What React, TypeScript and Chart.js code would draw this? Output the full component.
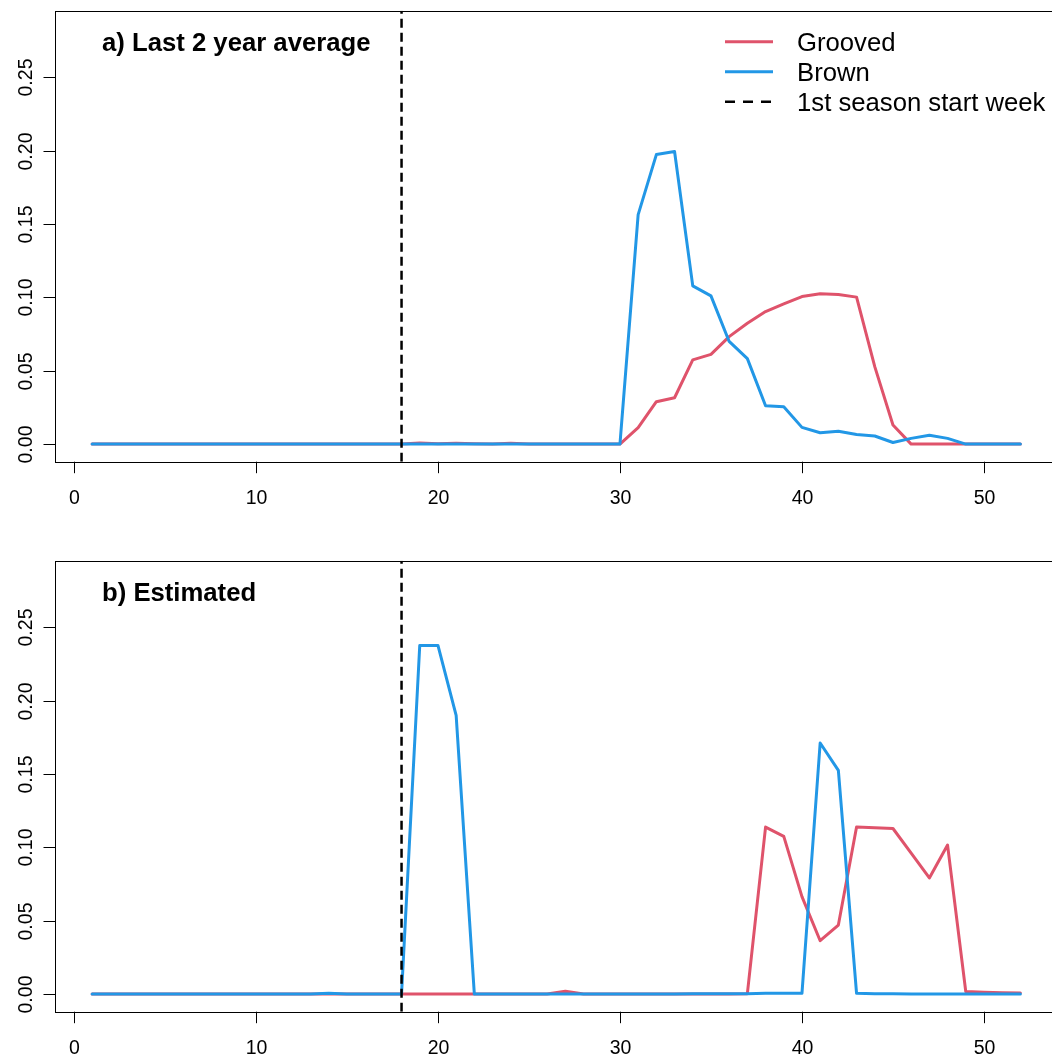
import React, { useEffect, useRef } from "react";
import { Chart, registerables } from "chart.js";

Chart.register(...registerables);

const weeks = [1,2,3,4,5,6,7,8,9,10,11,12,13,14,15,16,17,18,19,20,21,22,23,24,25,26,27,28,29,30,31,32,33,34,35,36,37,38,39,40,41,42,43,44,45,46,47,48,49,50,51,52];

// Panel a) Last 2 year average
const groovedAvg = [0,0,0,0,0,0,0,0,0,0,0,0,0,0,0,0,0,0,0.0007,0.0002,0.0006,0.0002,0,0.0006,0,0,0,0,0,0,0.0112,0.0289,0.0316,0.0574,0.0612,0.0733,0.0824,0.0904,0.0956,0.1006,0.1025,0.102,0.1002,0.0528,0.013,0,0,0,0,0,0,0];
const brownAvg = [0,0,0,0,0,0,0,0,0,0,0,0,0,0,0,0,0,0,0,0,0,0,0,0,0,0,0,0,0,0,0.1565,0.1974,0.1995,0.1079,0.1011,0.07,0.0583,0.0262,0.0255,0.0114,0.0077,0.0087,0.0066,0.0055,0.0011,0.0039,0.0061,0.0039,0,0,0,0];

// Panel b) Estimated
const groovedEst = [0,0,0,0,0,0,0,0,0,0,0,0,0,0,0,0,0,0,0,0,0,0,0,0,0,0,0.002,0,0,0,0,0,0,0,0,0,0.0003,0.1139,0.1075,0.0665,0.0364,0.0471,0.1139,0.1134,0.1129,0.0961,0.0792,0.1016,0.0018,0.0013,0.001,0.0008];
const brownEst = [0,0,0,0,0,0,0,0,0,0,0,0,0,0.0005,0,0,0,0,0.2377,0.2377,0.19,0,0,0,0,0,0,0,0,0,0,0,0,0.0003,0.0003,0.0003,0.0003,0.0005,0.0005,0.0005,0.1712,0.1525,0.0005,0.0003,0.0003,0,0,0,0,0,0,0];

const startWeek = 18;
const seriesNames = ["Grooved", "Brown"];
const startLabel = "1st season start week";
const panelTitles = ["a) Last 2 year average", "b) Estimated"];
const xTickValues = [0, 10, 20, 30, 40, 50];
const yTickValues = [0, 0.05, 0.1, 0.15, 0.2, 0.25];
const yTickLabels = ["0.00", "0.05", "0.10", "0.15", "0.20", "0.25"];

const RED = "#DF536B";
const BLUE = "#2297E6";
const FONT = "'Liberation Sans', Arial, Helvetica, sans-serif";

const Y_MIN = -0.012;
const Y_MAX = 0.2955;
const X_MIN = -1.04;
const X_MAX = 54.04;

const CW = 1062;
const CH = 550;

function makeChart(canvas: HTMLCanvasElement, title: string, grooved: number[], brown: number[], showLegend: boolean) {
  const toXY = (vals: number[]) => weeks.map((w, i) => ({ x: w, y: vals[i] }));
  const decor = {
    id: "rdecor",
    afterDraw(chart: any) {
      const ctx = chart.ctx as CanvasRenderingContext2D;
      const a = chart.chartArea;
      const xs = chart.scales.x;
      const ys = chart.scales.y;
      ctx.save();
      ctx.strokeStyle = "#000";
      ctx.lineWidth = 1;
      ctx.strokeRect(Math.round(a.left) + 0.5, Math.round(a.top) + 0.5, Math.round(a.right - a.left), Math.round(a.bottom - a.top));
      ctx.fillStyle = "#000";
      ctx.font = `19.5px ${FONT}`;
      // x ticks
      ctx.textAlign = "center";
      ctx.textBaseline = "alphabetic";
      for (const v of xTickValues) {
        const px = Math.round(xs.getPixelForValue(v)) + 0.5;
        ctx.beginPath();
        ctx.moveTo(px, a.bottom);
        ctx.lineTo(px, a.bottom + 11.5);
        ctx.stroke();
        ctx.fillText(String(v), px, a.bottom + 42.5);
      }
      // y ticks
      yTickValues.forEach((v, i) => {
        const py = Math.round(ys.getPixelForValue(v)) + 0.5;
        ctx.beginPath();
        ctx.moveTo(a.left, py);
        ctx.lineTo(a.left - 11.5, py);
        ctx.stroke();
        ctx.save();
        ctx.translate(32, py);
        ctx.rotate(-Math.PI / 2);
        ctx.textAlign = "center";
        ctx.fillText(yTickLabels[i], 0, 0);
        ctx.restore();
      });
      // title
      ctx.font = `bold 25.7px ${FONT}`;
      ctx.textAlign = "left";
      ctx.fillText(title, 102, 50.5);
      if (showLegend) {
        ctx.font = `25.7px ${FONT}`;
        const items = [
          { label: seriesNames[0], color: RED, dash: [] as number[], lw: 3 },
          { label: seriesNames[1], color: BLUE, dash: [] as number[], lw: 3 },
          { label: startLabel, color: "#000", dash: [10, 8], lw: 2.5 },
        ];
        items.forEach((it, i) => {
          const ly = 41.7 + i * 30;
          ctx.save();
          ctx.strokeStyle = it.color;
          ctx.lineWidth = it.lw;
          ctx.setLineDash(it.dash);
          ctx.beginPath();
          ctx.moveTo(725, ly);
          ctx.lineTo(773, ly);
          ctx.stroke();
          ctx.restore();
          ctx.fillText(it.label, 797, ly + 9);
        });
      }
      ctx.restore();
    },
  };
  return new Chart(canvas, {
    type: "line",
    data: {
      datasets: [
        {
          label: startLabel,
          data: [{ x: startWeek, y: Y_MIN }, { x: startWeek, y: Y_MAX }],
          borderColor: "#000",
          borderWidth: 2.5,
          borderDash: [9, 5],
          pointRadius: 0,
          order: 0,
        },
        {
          label: seriesNames[1],
          data: toXY(brown),
          borderColor: BLUE,
          borderWidth: 3,
          pointRadius: 0,
          borderCapStyle: "round",
          borderJoinStyle: "round",
          order: 1,
        },
        {
          label: seriesNames[0],
          data: toXY(grooved),
          borderColor: RED,
          borderWidth: 3,
          pointRadius: 0,
          borderCapStyle: "round",
          borderJoinStyle: "round",
          order: 2,
        },
      ],
    } as any,
    options: {
      animation: false,
      responsive: false,
      devicePixelRatio: 1,
      layout: { padding: { left: 55, top: 10.7, right: CW - 1057.5, bottom: CH - 461.7 } },
      plugins: { legend: { display: false }, tooltip: { enabled: false } },
      scales: {
        x: { type: "linear", min: X_MIN, max: X_MAX, display: false },
        y: { type: "linear", min: Y_MIN, max: Y_MAX, display: false },
      },
    } as any,
    plugins: [decor],
  });
}

export default function App() {
  const topRef = useRef<HTMLCanvasElement>(null);
  const botRef = useRef<HTMLCanvasElement>(null);
  useEffect(() => {
    const c1 = makeChart(topRef.current!, panelTitles[0], groovedAvg, brownAvg, true);
    const c2 = makeChart(botRef.current!, panelTitles[1], groovedEst, brownEst, false);
    return () => {
      c1.destroy();
      c2.destroy();
    };
  }, []);
  return (
    <div style={{ position: "absolute", left: 0, top: 0, width: 1052, height: 1058, overflow: "hidden", background: "#fff" }}>
      <canvas ref={topRef} width={CW} height={CH} style={{ position: "absolute", left: 0, top: 0, width: CW, height: CH }} />
      <canvas ref={botRef} width={CW} height={CH} style={{ position: "absolute", left: 0, top: 550, width: CW, height: CH }} />
    </div>
  );
}
